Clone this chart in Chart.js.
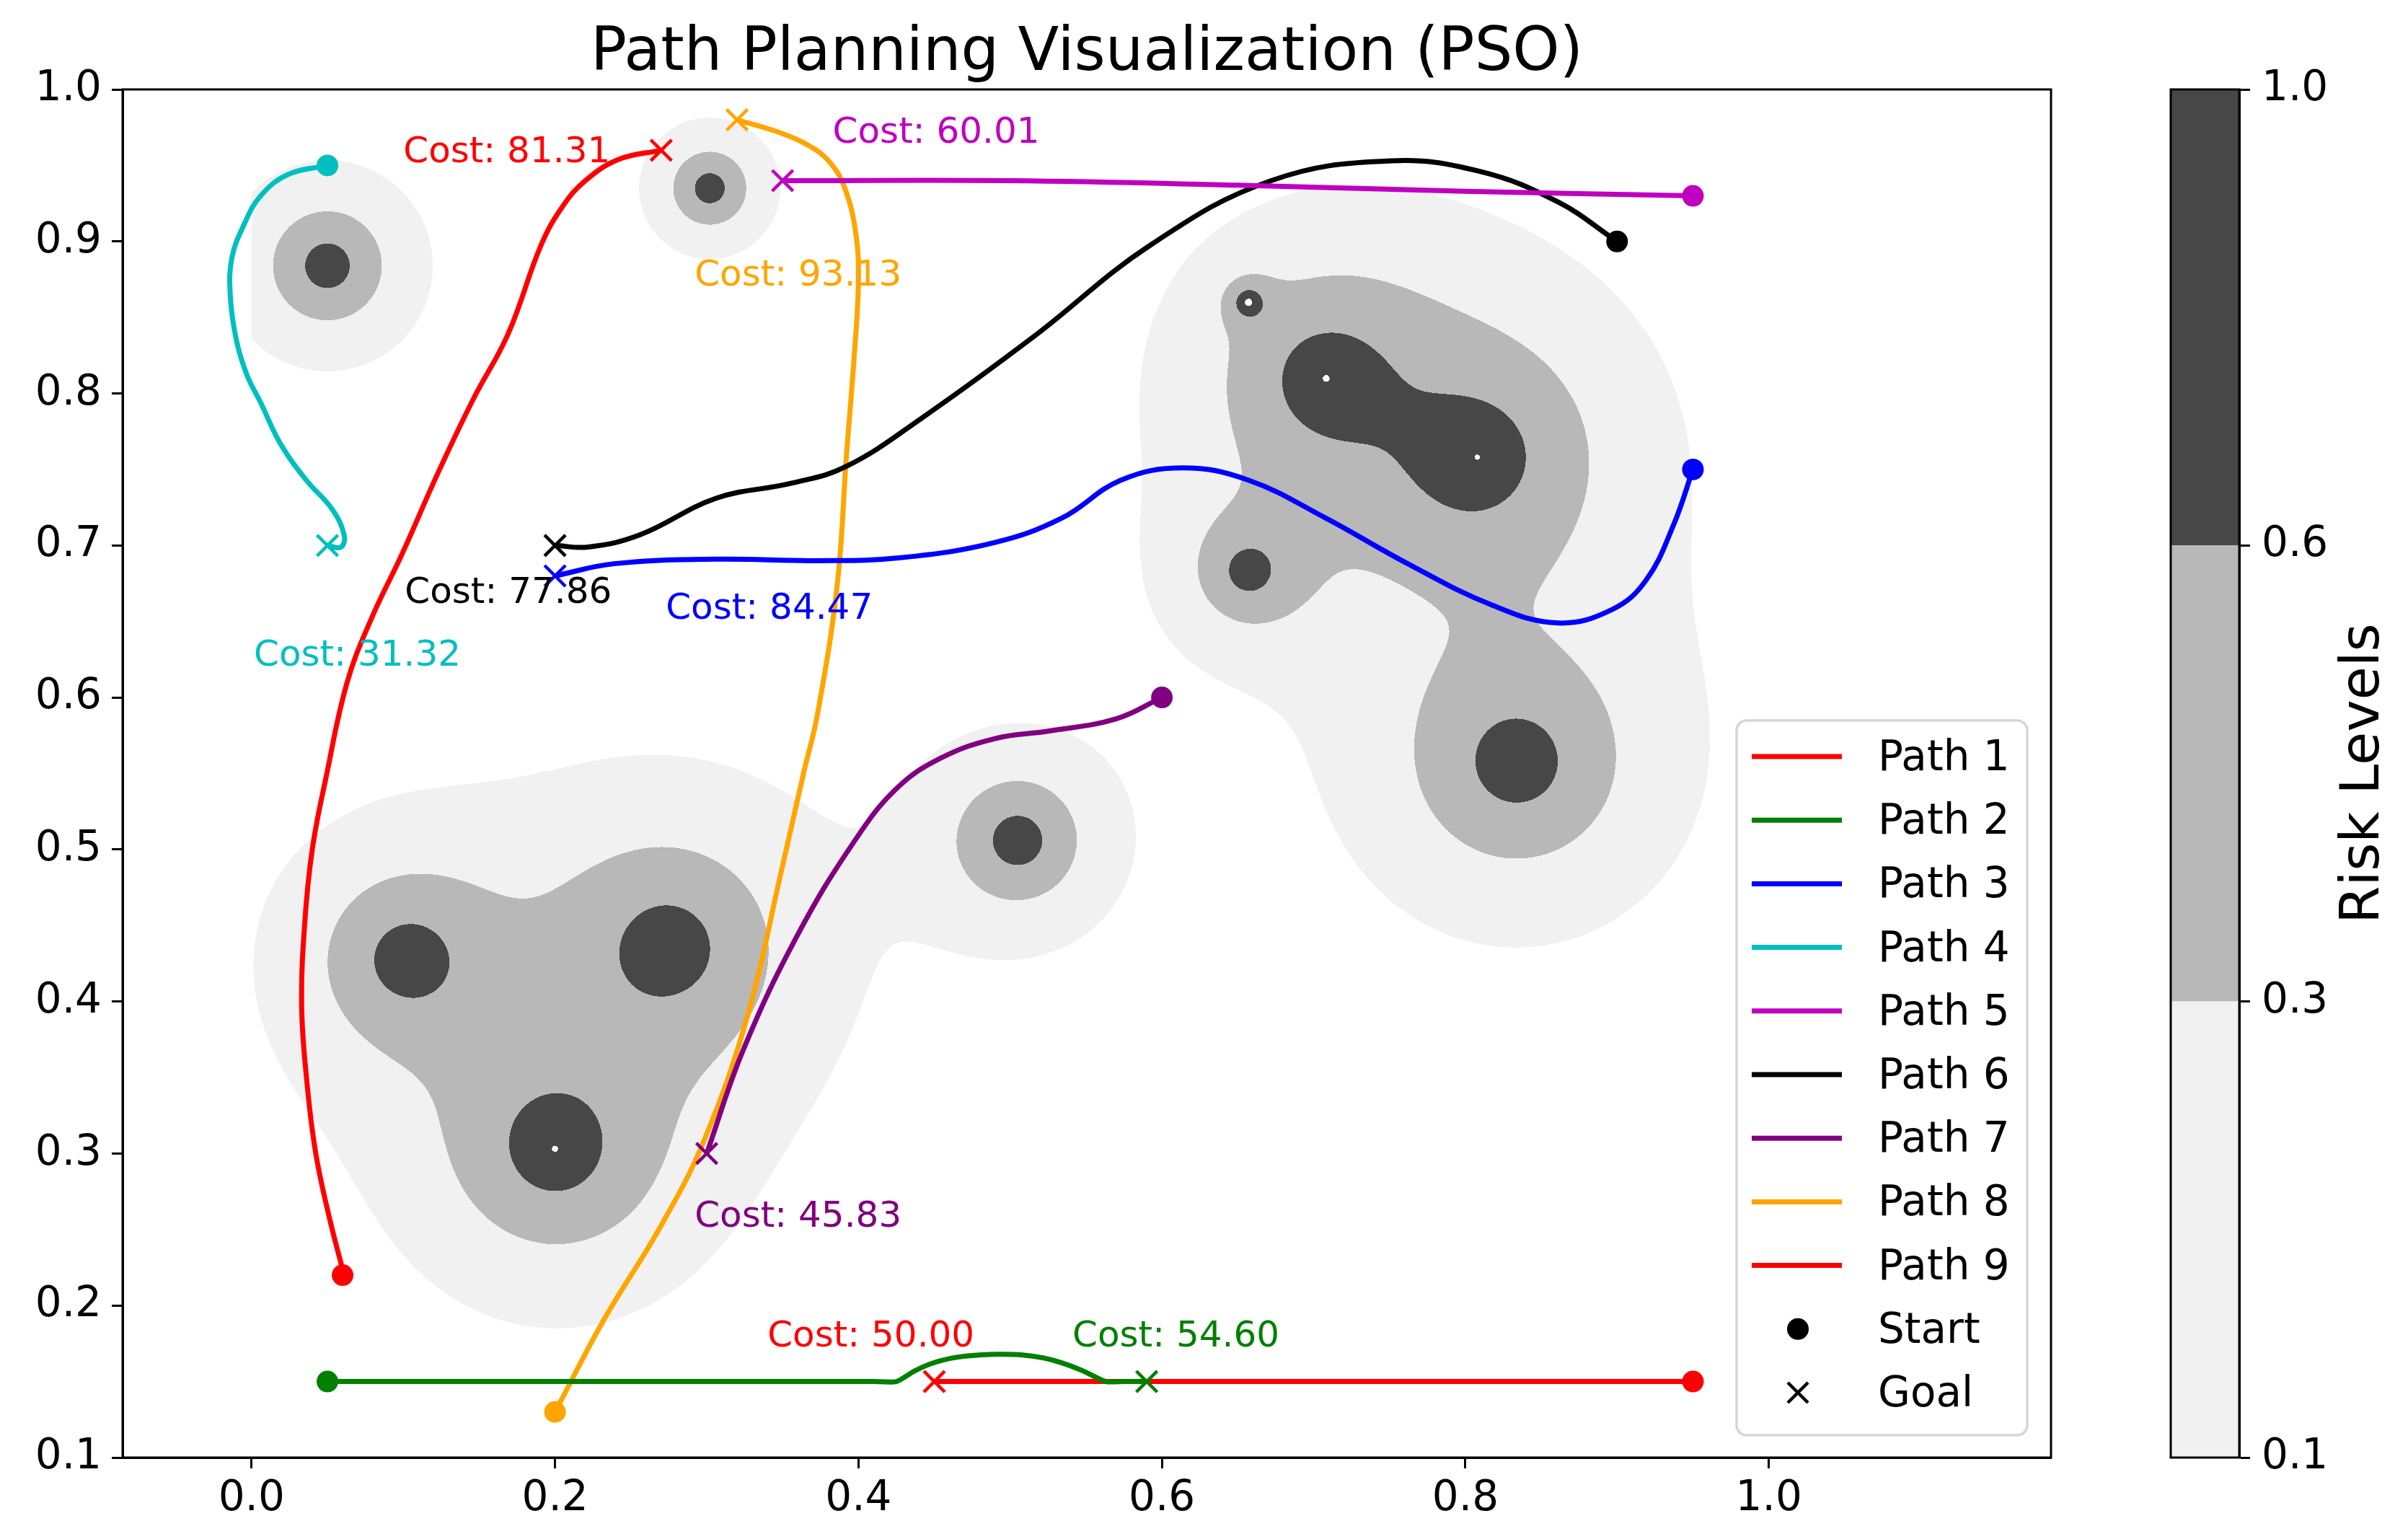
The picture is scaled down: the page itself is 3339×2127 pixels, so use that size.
<!DOCTYPE html>
<html>
<head>
<meta charset="utf-8">
<title>Path Planning Visualization (PSO)</title>
<script src="https://cdn.jsdelivr.net/npm/chart.js@4.4.1/dist/chart.umd.min.js"></script>
<style>
  html, body { margin: 0; padding: 0; background: #fff; }
  #wrap { position: relative; width: 3339px; height: 2127px; overflow: hidden; }
  #mainChart { position: absolute; left: 0; top: 0; }
  #colorbar { position: absolute; left: 3000px; top: 0; }
</style>
</head>
<body>
<div id="wrap">
  <canvas id="mainChart" width="3339" height="2127"></canvas>
  <canvas id="colorbar" width="339" height="2127"></canvas>
</div>
<script>
const chartTitle = "Path Planning Visualization (PSO)";
const pathNames = ["Path 1", "Path 2", "Path 3", "Path 4", "Path 5", "Path 6", "Path 7", "Path 8", "Path 9"];
const pathColors = ["#ff0000", "#008000", "#0000ff", "#00bfbf", "#bf00bf", "#000000", "#800080", "#ffa500", "#ff0000"];
const pathCosts = [81.31, 54.60, 84.47, 31.32, 60.01, 77.86, 45.83, 93.13, 50.00];

const startX = [0.06, 0.05, 0.95, 0.05, 0.95, 0.90, 0.60, 0.20, 0.95];
const startY = [0.22, 0.15, 0.75, 0.95, 0.93, 0.90, 0.60, 0.13, 0.15];
const goalX = [0.27, 0.59, 0.20, 0.05, 0.35, 0.20, 0.30, 0.32, 0.45];
const goalY = [0.96, 0.15, 0.68, 0.70, 0.94, 0.70, 0.30, 0.98, 0.15];

// waypoints
const path1X = [0.061, 0.051, 0.042, 0.036, 0.033, 0.035, 0.040, 0.049, 0.063, 0.079, 0.099, 0.123, 0.146, 0.169, 0.191, 0.205, 0.220, 0.242, 0.270];
const path1Y = [0.220, 0.259, 0.302, 0.352, 0.398, 0.451, 0.500, 0.547, 0.610, 0.652, 0.694, 0.748, 0.796, 0.839, 0.898, 0.923, 0.940, 0.954, 0.960];
const path2X = [0.050, 0.250, 0.410, 0.425, 0.437, 0.450, 0.465, 0.480, 0.493, 0.508, 0.522, 0.535, 0.548, 0.563, 0.575, 0.590];
const path2Y = [0.150, 0.150, 0.150, 0.150, 0.157, 0.1625, 0.166, 0.1675, 0.168, 0.1675, 0.1655, 0.162, 0.157, 0.150, 0.150, 0.150];
const path3X = [0.200, 0.239, 0.306, 0.372, 0.428, 0.490, 0.534, 0.573, 0.614, 0.657, 0.708, 0.762, 0.817, 0.861, 0.897, 0.919, 0.937, 0.950];
const path3Y = [0.680, 0.688, 0.691, 0.690, 0.692, 0.702, 0.718, 0.743, 0.751, 0.743, 0.718, 0.688, 0.661, 0.649, 0.658, 0.677, 0.713, 0.750];
const path4X = [0.050, 0.024, 0.006, -0.005, -0.013, -0.014, -0.010, -0.003, 0.006, 0.019, 0.036, 0.053, 0.061, 0.059, 0.050];
const path4Y = [0.950, 0.944, 0.930, 0.911, 0.889, 0.864, 0.835, 0.812, 0.794, 0.767, 0.743, 0.724, 0.707, 0.699, 0.700];
const path5X = [0.950, 0.800, 0.650, 0.500, 0.350];
const path5Y = [0.930, 0.933, 0.937, 0.940, 0.940];
const path6X = [0.200, 0.222, 0.256, 0.306, 0.356, 0.392, 0.442, 0.515, 0.593, 0.672, 0.751, 0.810, 0.861, 0.900];
const path6Y = [0.700, 0.699, 0.707, 0.731, 0.741, 0.752, 0.784, 0.837, 0.898, 0.940, 0.953, 0.946, 0.926, 0.900];
const path7X = [0.300, 0.324, 0.360, 0.397, 0.425, 0.454, 0.490, 0.526, 0.570, 0.600];
const path7Y = [0.300, 0.368, 0.444, 0.505, 0.540, 0.560, 0.573, 0.578, 0.586, 0.600];
const path8X = [0.200, 0.233, 0.269, 0.298, 0.327, 0.349, 0.364, 0.373, 0.386, 0.392, 0.397, 0.400, 0.398, 0.391, 0.382, 0.369, 0.347, 0.320];
const path8Y = [0.130, 0.192, 0.251, 0.308, 0.391, 0.485, 0.551, 0.589, 0.674, 0.758, 0.822, 0.875, 0.907, 0.935, 0.951, 0.962, 0.972, 0.980];
const path9X = [0.950, 0.450];
const path9Y = [0.150, 0.150];

const costLabelX = [0.100, 0.541, 0.273, 0.0015, 0.383, 0.101, 0.292, 0.292, 0.340];
const costLabelY = [0.952, 0.173, 0.652, 0.621, 0.965, 0.662, 0.252, 0.871, 0.173];

// risk sources: centre, decay length and peak of each obstacle
const obstacleX = [0.050, 0.302, 0.103, 0.275, 0.200, 0.505, 0.657, 0.708, 0.808, 0.657, 0.834];
const obstacleY = [0.884, 0.935, 0.428, 0.436, 0.303, 0.506, 0.860, 0.810, 0.758, 0.683, 0.557];
const obstacleSpread = [0.0305, 0.0204, 0.043, 0.054, 0.050, 0.032, 0.008, 0.050, 0.058, 0.025, 0.053];
const obstaclePeak = [0.97, 0.97, 0.91, 0.92, 0.96, 0.97, 1.00, 0.90, 0.91, 0.82, 0.95];

const riskLevels = [0.1, 0.3, 0.6, 1.0];
const riskColors = ["#f1f1f1", "#b8b8b8", "#474747"];

const xTickValues = [0.0, 0.2, 0.4, 0.6, 0.8, 1.0];
const yTickValues = [0.1, 0.2, 0.3, 0.4, 0.5, 0.6, 0.7, 0.8, 0.9, 1.0];

const pathX = [path1X, path2X, path3X, path4X, path5X, path6X, path7X, path8X, path9X];
const pathY = [path1Y, path2Y, path3Y, path4Y, path5Y, path6Y, path7Y, path8Y, path9Y];

const FONT = '"DejaVu Sans", "Liberation Sans", sans-serif';
Chart.defaults.font.family = FONT;
Chart.defaults.color = "#000";

function hexToRgb(hex) {
  const n = parseInt(hex.slice(1), 16);
  return [(n >> 16) & 255, (n >> 8) & 255, n & 255];
}

function riskAt(x, y) {
  let value = 0;
  for (let k = 0; k < obstacleX.length; k++) {
    const dx = x - obstacleX[k];
    const dy = y - obstacleY[k];
    value += obstaclePeak[k] * Math.exp(-Math.sqrt(dx * dx + dy * dy) / obstacleSpread[k]);
  }
  return value;
}

let riskImage = null;

function renderRiskImage(area, xScale, yScale) {
  const left = Math.round(area.left);
  const top = Math.round(area.top);
  const w = Math.round(area.right) - left;
  const h = Math.round(area.bottom) - top;
  const off = document.createElement("canvas");
  off.width = w;
  off.height = h;
  const octx = off.getContext("2d");
  const img = octx.createImageData(w, h);
  const rgb = riskColors.map(hexToRgb);
  const xs = new Float64Array(w);
  for (let i = 0; i < w; i++) xs[i] = xScale.getValueForPixel(left + i + 0.5);
  for (let j = 0; j < h; j++) {
    const y = yScale.getValueForPixel(top + j + 0.5);
    if (y < 0 || y > 1) continue;
    for (let i = 0; i < w; i++) {
      const x = xs[i];
      if (x < 0 || x > 1) continue;
      const v = riskAt(x, y);
      let band = -1;
      for (let b = 0; b < riskColors.length; b++) {
        if (v >= riskLevels[b] && v <= riskLevels[b + 1]) band = b;
      }
      if (band < 0) continue;
      const p = (j * w + i) * 4;
      img.data[p] = rgb[band][0];
      img.data[p + 1] = rgb[band][1];
      img.data[p + 2] = rgb[band][2];
      img.data[p + 3] = 255;
    }
  }
  octx.putImageData(img, 0, 0);
  return { canvas: off, left, top };
}

const riskMapPlugin = {
  id: "riskMap",
  beforeDraw(chart) {
    const { ctx, chartArea, scales } = chart;
    ctx.save();
    ctx.fillStyle = "#ffffff";
    ctx.fillRect(0, 0, chart.width, chart.height);
    if (!riskImage) riskImage = renderRiskImage(chartArea, scales.x, scales.y);
    ctx.drawImage(riskImage.canvas, riskImage.left, riskImage.top);
    ctx.restore();
  }
};

const annotationsPlugin = {
  id: "annotations",
  afterDatasetsDraw(chart) {
    const { ctx, chartArea: a, scales } = chart;
    ctx.save();
    ctx.strokeStyle = "#000";
    ctx.lineWidth = 3;
    ctx.strokeRect(a.left, a.top, a.right - a.left, a.bottom - a.top);

    ctx.font = `50px ${FONT}`;
    ctx.textAlign = "left";
    ctx.textBaseline = "alphabetic";
    pathCosts.forEach((cost, i) => {
      ctx.fillStyle = pathColors[i];
      ctx.fillText(`Cost: ${cost.toFixed(2)}`, scales.x.getPixelForValue(costLabelX[i]), scales.y.getPixelForValue(costLabelY[i]));
    });

    ctx.fillStyle = "#000";
    ctx.font = `83px ${FONT}`;
    ctx.textAlign = "center";
    ctx.fillText(chartTitle, (a.left + a.right) / 2, a.top - 27);
    ctx.restore();
  }
};

function roundRect(ctx, x, y, w, h, r) {
  ctx.beginPath();
  ctx.moveTo(x + r, y);
  ctx.arcTo(x + w, y, x + w, y + h, r);
  ctx.arcTo(x + w, y + h, x, y + h, r);
  ctx.arcTo(x, y + h, x, y, r);
  ctx.arcTo(x, y, x + w, y, r);
  ctx.closePath();
}

const legendPlugin = {
  id: "pathLegend",
  afterDraw(chart) {
    const { ctx, chartArea: a } = chart;
    const width = 403;
    const height = 991;
    const left = a.right - 33 - width;
    const top = a.bottom - 31 - height;
    const rowGap = 88.2;
    ctx.save();
    roundRect(ctx, left, top, width, height, 14);
    ctx.fillStyle = "rgba(255,255,255,0.8)";
    ctx.fill();
    ctx.strokeStyle = "#d6d6d6";
    ctx.lineWidth = 3.5;
    ctx.stroke();

    ctx.font = `58px ${FONT}`;
    ctx.textAlign = "left";
    ctx.textBaseline = "middle";
    const entries = pathNames.concat(["Start", "Goal"]);
    entries.forEach((name, i) => {
      const cy = top + 50 + i * rowGap;
      if (i < pathNames.length) {
        ctx.strokeStyle = pathColors[i];
        ctx.lineWidth = 7;
        ctx.beginPath();
        ctx.moveTo(left + 21, cy);
        ctx.lineTo(left + 146, cy);
        ctx.stroke();
      } else if (name === "Start") {
        ctx.fillStyle = "#000";
        ctx.beginPath();
        ctx.arc(left + 85, cy, 15, 0, Math.PI * 2);
        ctx.fill();
      } else {
        ctx.strokeStyle = "#000";
        ctx.lineWidth = 4.5;
        ctx.beginPath();
        ctx.moveTo(left + 71, cy - 14);
        ctx.lineTo(left + 99, cy + 14);
        ctx.moveTo(left + 71, cy + 14);
        ctx.lineTo(left + 99, cy - 14);
        ctx.stroke();
      }
      ctx.fillStyle = "#000";
      ctx.fillText(name, left + 196, cy + 4);
    });
    ctx.restore();
  }
};

const datasets = [];
pathNames.forEach((name, i) => {
  datasets.push({
    label: name,
    data: pathX[i].map((x, k) => ({ x, y: pathY[i][k] })),
    showLine: true,
    borderColor: pathColors[i],
    backgroundColor: pathColors[i],
    borderWidth: 7,
    borderJoinStyle: "round",
    pointRadius: 0,
    tension: i === 1 ? 0.2 : 0.4,
    fill: false,
    order: 2
  });
});
datasets.push({
  label: "Start",
  data: startX.map((x, i) => ({ x, y: startY[i] })),
  pointStyle: "circle",
  pointRadius: 15,
  pointBackgroundColor: pathColors,
  pointBorderWidth: 0,
  showLine: false,
  order: 0
});
datasets.push({
  label: "Goal",
  data: goalX.map((x, i) => ({ x, y: goalY[i] })),
  pointStyle: "crossRot",
  pointRadius: 20.5,
  pointBorderColor: pathColors,
  pointBorderWidth: 4.5,
  showLine: false,
  order: 0
});

const axisGrid = { drawOnChartArea: false, drawTicks: true, tickLength: 15, tickWidth: 3, tickColor: "#000" };
const axisBorder = { display: true, color: "#000", width: 3 };

new Chart(document.getElementById("mainChart"), {
  type: "scatter",
  data: { datasets },
  options: {
    responsive: false,
    devicePixelRatio: 1,
    animation: false,
    events: [],
    layout: { padding: { top: 124, right: 495, left: 0, bottom: 0 } },
    plugins: { legend: { display: false }, tooltip: { enabled: false }, title: { display: false } },
    scales: {
      x: {
        type: "linear",
        min: -0.085,
        max: 1.186,
        afterBuildTicks: (scale) => { scale.ticks = xTickValues.map((value) => ({ value })); },
        afterFit: (scale) => { scale.height = 106; },
        grid: axisGrid,
        border: axisBorder,
        ticks: { font: { size: 58 }, padding: 8, maxRotation: 0, autoSkip: false, callback: (v) => Number(v).toFixed(1) }
      },
      y: {
        type: "linear",
        min: 0.1,
        max: 1.0,
        afterBuildTicks: (scale) => { scale.ticks = yTickValues.map((value) => ({ value })); },
        afterFit: (scale) => { scale.width = 170; },
        grid: axisGrid,
        border: axisBorder,
        ticks: { font: { size: 58 }, padding: 14, autoSkip: false, callback: (v) => Number(v).toFixed(1) }
      }
    }
  },
  plugins: [riskMapPlugin, annotationsPlugin, legendPlugin]
});

// colorbar: one stacked bar per risk band, uniform spacing
const colorbarLabel = "Risk Levels";
const colorbarPlugin = {
  id: "colorbarOutline",
  afterDraw(chart) {
    const { ctx, chartArea: a } = chart;
    ctx.save();
    ctx.strokeStyle = "#000";
    ctx.lineWidth = 3;
    ctx.strokeRect(a.left, a.top, a.right - a.left, a.bottom - a.top);
    ctx.translate(279, (a.top + a.bottom) / 2);
    ctx.rotate(-Math.PI / 2);
    ctx.font = `75px ${FONT}`;
    ctx.textAlign = "center";
    ctx.textBaseline = "middle";
    ctx.fillStyle = "#000";
    ctx.fillText(colorbarLabel, 0, 0);
    ctx.restore();
  }
};

new Chart(document.getElementById("colorbar"), {
  type: "bar",
  data: {
    labels: [""],
    datasets: riskColors.map((color, i) => ({
      label: `${riskLevels[i]}-${riskLevels[i + 1]}`,
      data: [1],
      backgroundColor: color,
      borderWidth: 0,
      barPercentage: 1,
      categoryPercentage: 1
    }))
  },
  options: {
    responsive: false,
    devicePixelRatio: 1,
    animation: false,
    events: [],
    layout: { padding: { top: 124, bottom: 106, left: 10, right: 0 } },
    plugins: { legend: { display: false }, tooltip: { enabled: false } },
    scales: {
      x: { display: false, stacked: true },
      y: {
        stacked: true,
        position: "right",
        min: 0,
        max: riskLevels.length - 1,
        afterBuildTicks: (scale) => { scale.ticks = riskLevels.map((_, i) => ({ value: i })); },
        afterFit: (scale) => { scale.width = 234; },
        grid: axisGrid,
        border: axisBorder,
        ticks: { font: { size: 58 }, padding: 16, callback: (v) => riskLevels[v].toFixed(1) }
      }
    }
  },
  plugins: [colorbarPlugin]
});
</script>
</body>
</html>
